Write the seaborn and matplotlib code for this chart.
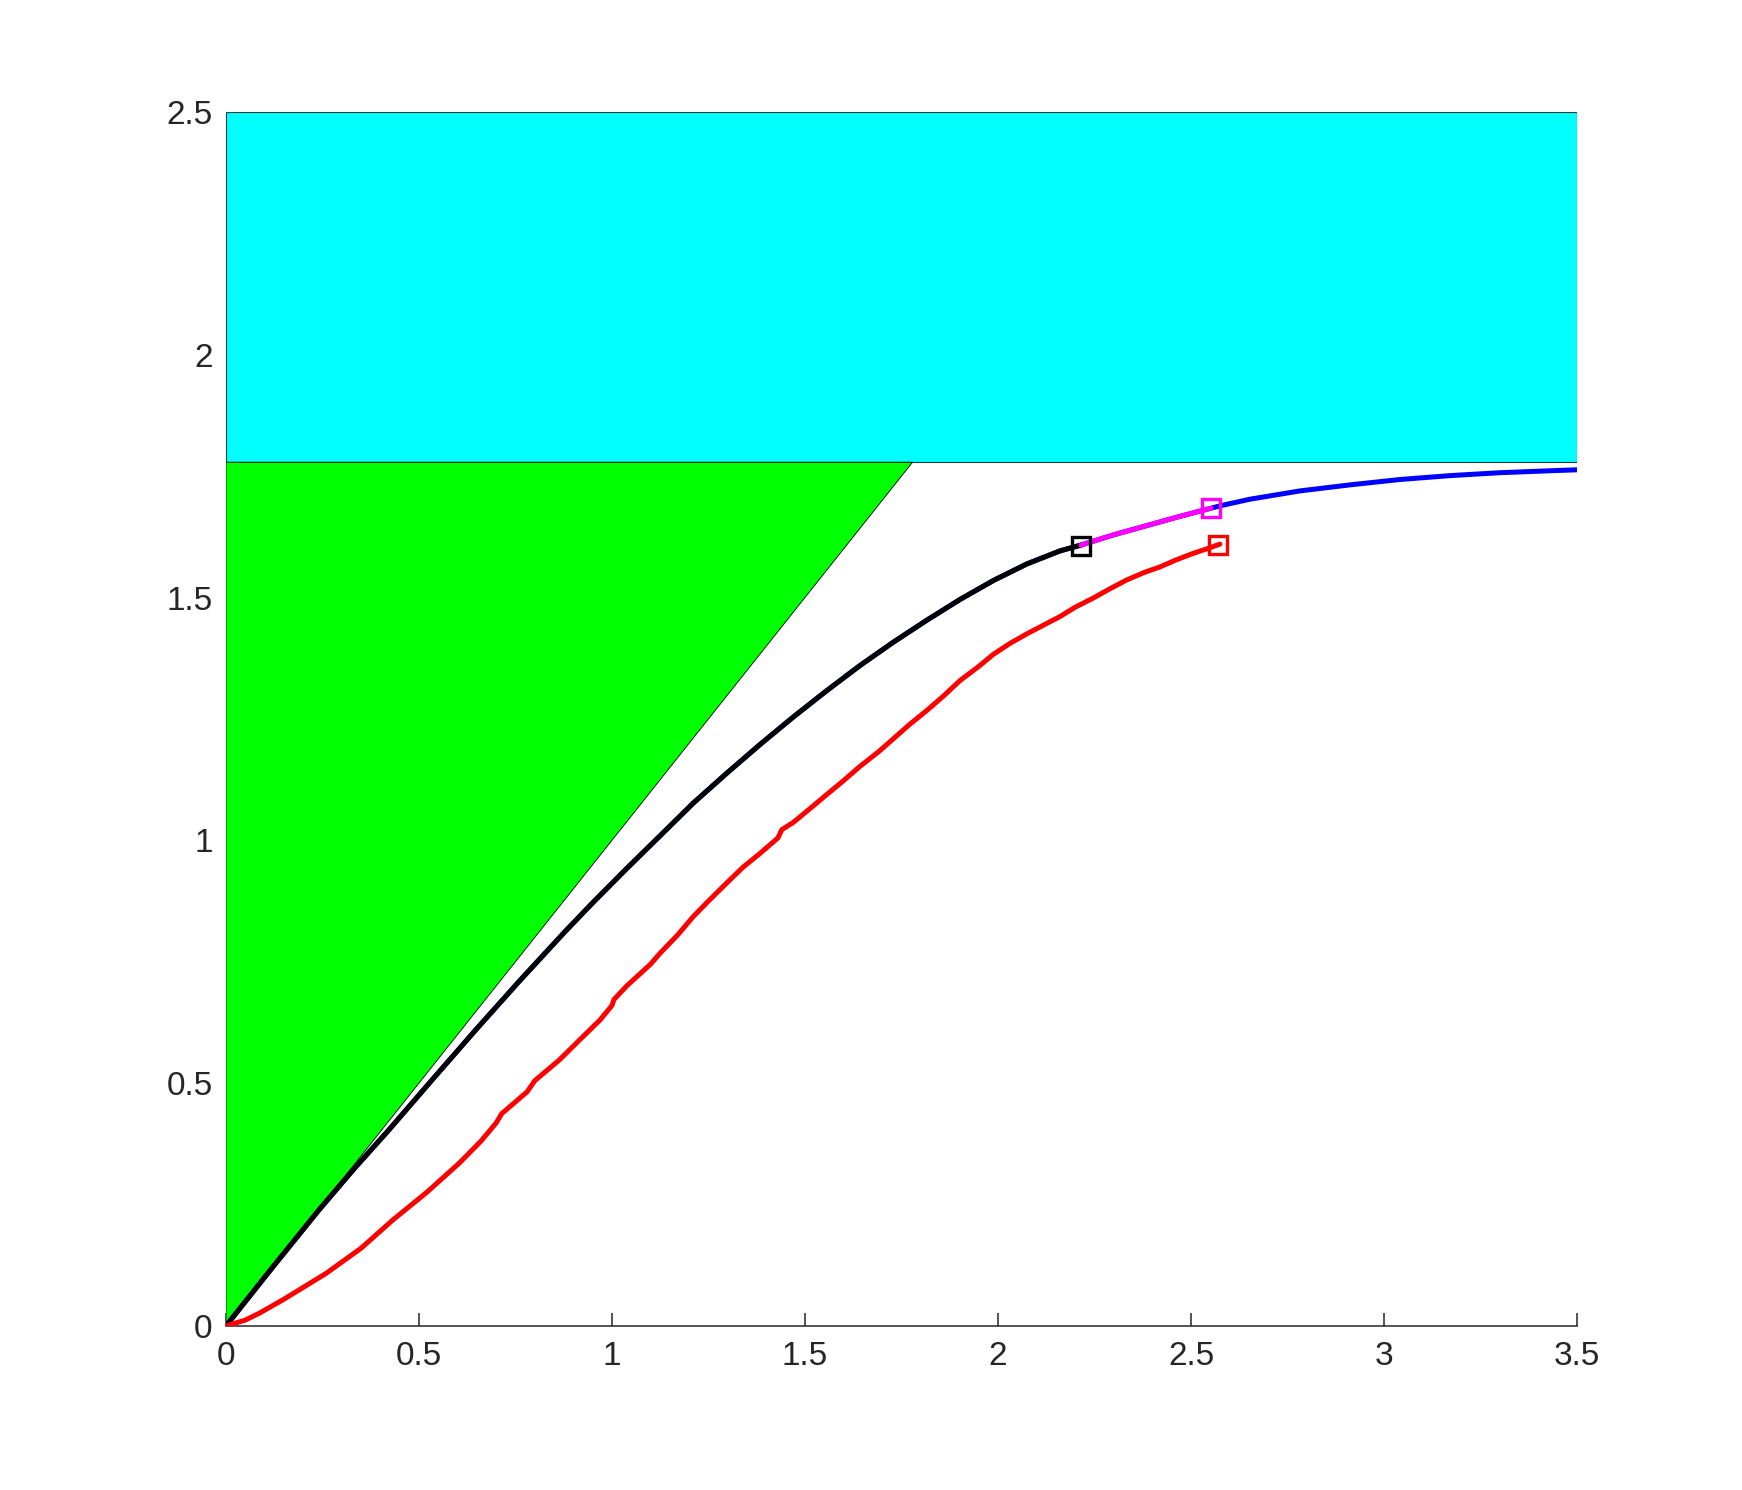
import numpy as np
import pandas as pd
import matplotlib
matplotlib.use("Agg")
import matplotlib.pyplot as plt
import seaborn as sns
from matplotlib.patches import Polygon, Rectangle

# ---------------- data ----------------
level = 1.7786          # boundary between the green/cyan regions
x_max = 3.5
y_max = 2.5

# black curve (coincides with blue underneath)
black_x = [0.0, 0.12, 0.24, 0.33, 0.422, 0.53, 0.647, 0.76, 0.876, 0.9516,
           1.038, 1.1244, 1.211, 1.2971, 1.383, 1.4698, 1.556, 1.6425, 1.7288,
           1.815, 1.9016, 1.988, 2.0743, 2.1606, 2.215]
black_y = [0.0, 0.12, 0.238, 0.322, 0.4036, 0.503, 0.6096, 0.710, 0.810, 0.8727,
           0.9418, 1.0092, 1.077, 1.138, 1.197, 1.254, 1.308, 1.360, 1.408,
           1.453, 1.496, 1.535, 1.569, 1.596, 1.608]

# magenta segment
mag_x = [2.215, 2.2988, 2.376, 2.463, 2.552]
mag_y = [1.608, 1.6289, 1.646, 1.6653, 1.684]

# blue tail after the magenta segment
tail_x = [2.552, 2.579, 2.653, 2.782, 2.912, 3.041, 3.171, 3.30, 3.43, 3.5]
tail_y = [1.684, 1.6895, 1.7025, 1.7195, 1.732, 1.743, 1.751, 1.757, 1.761, 1.763]

# red (noisy) curve
red_x = [0.0, 0.05, 0.086, 0.15, 0.259, 0.35, 0.432, 0.52, 0.604, 0.66, 0.70,
         0.715, 0.72, 0.78, 0.80, 0.864, 0.92, 0.969, 1.0, 1.005, 1.038, 1.10,
         1.124, 1.17, 1.2106, 1.25, 1.297, 1.34, 1.3834, 1.43, 1.44, 1.47, 1.52,
         1.556, 1.60, 1.642, 1.69, 1.7288, 1.77, 1.815, 1.86, 1.9016, 1.95,
         1.988, 2.03, 2.0743, 2.12, 2.161, 2.20, 2.247, 2.29, 2.333, 2.38,
         2.4197, 2.46, 2.506, 2.54, 2.575]
red_y = [0.0, 0.012, 0.026, 0.055, 0.108, 0.16, 0.218, 0.275, 0.335, 0.380, 0.418,
         0.438, 0.441, 0.482, 0.505, 0.548, 0.592, 0.630, 0.660, 0.672, 0.700, 0.745,
         0.767, 0.805, 0.843, 0.875, 0.912, 0.945, 0.973, 1.005, 1.022, 1.037, 1.070,
         1.094, 1.123, 1.152, 1.182, 1.209, 1.238, 1.267, 1.298, 1.329, 1.358,
         1.383, 1.405, 1.425, 1.444, 1.461, 1.480, 1.499, 1.518, 1.536, 1.552,
         1.563, 1.577, 1.591, 1.600, 1.610]

# square markers
sq_black = (2.215, 1.607)
sq_mag = (2.552, 1.684)
sq_red = (2.571, 1.608)

x_ticks = [0, 0.5, 1, 1.5, 2, 2.5, 3, 3.5]
x_ticklabels = ["0", "0.5", "1", "1.5", "2", "2.5", "3", "3.5"]
y_ticks = [0, 0.5, 1, 1.5, 2, 2.5]
y_ticklabels = ["0", "0.5", "1", "1.5", "2", "2.5"]

# ---------------- figure ----------------
sns.set_theme(style="white")
plt.rcParams["font.family"] = ["Liberation Sans", "DejaVu Sans"]

fig = plt.figure(figsize=(17.42, 14.90), dpi=100)
ax = fig.add_axes([0.1297, 0.1101, 0.7756, 0.8148])

ax.add_patch(Rectangle((0, level), x_max, y_max - level, facecolor="#00ffff",
                       edgecolor="#1c3c3c", lw=0.8, zorder=1))
ax.add_patch(Polygon([(0, 0), (level, level), (0, level)], facecolor="#00ff00",
                     edgecolor="black", lw=0.6, zorder=1))

blue_x = black_x + mag_x[1:] + tail_x[1:]
blue_y = black_y + mag_y[1:] + tail_y[1:]

lw = 3.6
sns.lineplot(x=blue_x, y=blue_y, color="#0000ff", lw=lw, sort=False,
             estimator=None, ax=ax, zorder=3)
sns.lineplot(x=black_x, y=black_y, color="black", lw=lw, sort=False,
             estimator=None, ax=ax, zorder=4)
sns.lineplot(x=mag_x, y=mag_y, color="#ff00ff", lw=lw, sort=False,
             estimator=None, ax=ax, zorder=4)
sns.lineplot(x=red_x, y=red_y, color="#ff0000", lw=lw, sort=False,
             estimator=None, ax=ax, zorder=4)

for (px, py), c in [(sq_black, "black"), (sq_mag, "#ff00ff"), (sq_red, "#ff0000")]:
    ax.plot([px], [py], marker="s", ms=13, mfc="none", mec=c, mew=2.4,
            ls="none", zorder=6)

ax.set_xlim(0, x_max)
ax.set_ylim(0, y_max)
ax.set_xticks(x_ticks)
ax.set_xticklabels(x_ticklabels)
ax.set_yticks(y_ticks)
ax.set_yticklabels(y_ticklabels)

for s in ["top", "right", "left"]:
    ax.spines[s].set_visible(False)
ax.spines["bottom"].set_color("#262626")
ax.spines["bottom"].set_linewidth(1.1)
ax.spines["bottom"].set_zorder(2)

ax.tick_params(axis="x", direction="in", length=9.5, width=1.1, color="#262626",
               labelsize=24, labelcolor="#262626", pad=11, bottom=True)
ax.tick_params(axis="y", length=0, labelsize=24, labelcolor="#262626", pad=9.5,
               left=True)
ax.set_facecolor("white")
ax.grid(False)

fig.savefig("out.png", dpi=100, facecolor="white")
